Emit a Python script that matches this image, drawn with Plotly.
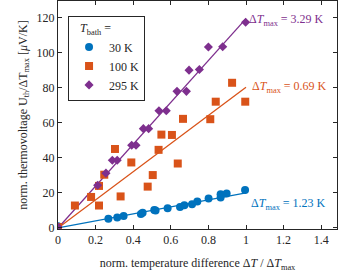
import plotly.graph_objects as go

# ---- data ----
x30 = [0, 0.268, 0.315, 0.349, 0.441, 0.450, 0.512, 0.519, 0.583, 0.649, 0.672, 0.713, 0.741, 0.801, 0.865, 0.865, 0.897, 0.995]
y30 = [1.0, 5.3, 6.0, 6.8, 7.9, 8.7, 10.2, 10.0, 11.2, 11.9, 12.9, 13.6, 15.1, 16.8, 17.4, 19.3, 19.7, 21.7]

x100 = [0, 0.090, 0.176, 0.218, 0.218, 0.246, 0.303, 0.333, 0.390, 0.477, 0.504, 0.535, 0.550, 0.606, 0.637, 0.665, 0.810, 0.839, 0.926, 0.996]
y100 = [0.5, 12.8, 17.7, 12.8, 24.0, 30.4, 45.1, 18.0, 37.4, 23.6, 30.2, 44.6, 53.3, 53.1, 36.8, 62.3, 62.1, 72.1, 82.9, 72.1]

x295 = [0, 0.211, 0.255, 0.289, 0.315, 0.392, 0.415, 0.454, 0.482, 0.537, 0.576, 0.633, 0.683, 0.697, 0.752, 0.800, 0.876, 0.998]
y295 = [0.5, 24.4, 31.3, 38.7, 38.7, 47.2, 47.2, 56.7, 56.7, 66.9, 66.9, 78.0, 78.0, 90.1, 90.5, 103.3, 103.5, 117.5]

series_names = ["30 K", "100 K", "295 K"]
fit_slopes = [20.0, 80.3, 119.5]
fit_x = [0, 1]
dT_labels = ["Δ<i>T</i><sub>max</sub> = 1.23 K", "Δ<i>T</i><sub>max</sub> = 0.69 K", "Δ<i>T</i><sub>max</sub> = 3.29 K"]
label_pos = [(1.016, 13.6), (1.02, 80.5), (1.004, 119.0)]

colors = ["#0072BD", "#D95319", "#7E2F8E"]
symbols = ["circle", "square", "diamond"]
sizes = [8, 8, 7]
xs = [x30, x100, x295]
ys = [y30, y100, y295]

font = "Liberation Serif"

fig = go.Figure()
for i in range(3):
    fig.add_trace(go.Scatter(
        x=fit_x, y=[fit_slopes[i] * v for v in fit_x], mode="lines",
        line=dict(color=colors[i], width=1.3), showlegend=False, hoverinfo="skip"))
for i in range(3):
    fig.add_trace(go.Scatter(
        x=xs[i], y=ys[i], mode="markers", name=series_names[i],
        marker=dict(color=colors[i], symbol=symbols[i], size=sizes[i], line=dict(width=0))))

for i in range(3):
    fig.add_annotation(x=label_pos[i][0], y=label_pos[i][1], text=dT_labels[i],
                       showarrow=False, xanchor="left", yanchor="middle",
                       font=dict(family=font, size=12, color=colors[i]))

axis_common = dict(showgrid=False, zeroline=False, showline=True, linecolor="#262626",
                   linewidth=1, mirror="ticks", ticks="inside", ticklen=4, automargin=False,
                   tickcolor="#262626", tickfont=dict(family=font, size=12, color="#262626"))

fig.update_xaxes(range=[0, 1.484], tickvals=[0, 0.2, 0.4, 0.6, 0.8, 1, 1.2, 1.4],
                 ticktext=["0", "0.2", "0.4", "0.6", "0.8", "1", "1.2", "1.4"],
                 title=dict(text="norm. temperature difference Δ<i>T</i> / Δ<i>T</i><sub>max</sub>",
                            font=dict(family=font, size=12, color="#262626"), standoff=12),
                 **axis_common)
fig.update_yaxes(range=[-0.6, 129.6], tickvals=[0, 20, 40, 60, 80, 100, 120],
                 title=dict(text="norm. thermovoltage U<sub>th</sub>/ΔT<sub>max</sub> [<i>μ</i>V/K]",
                            font=dict(family=font, size=12, color="#262626"), standoff=6),
                 **axis_common)

fig.update_layout(
    width=339, height=272,
    margin=dict(l=58, r=2, t=1, b=43, autoexpand=False),
    plot_bgcolor="white", paper_bgcolor="white",
    font=dict(family=font, size=12, color="#262626"),
    showlegend=True,
    legend=dict(x=0.036, y=0.935, xanchor="left", yanchor="top",
                bordercolor="#262626", borderwidth=1, bgcolor="white",
                title=dict(text="   <i>T</i><sub>bath</sub> =", font=dict(family=font, size=12)),
                font=dict(family=font, size=12, color="#262626"),
                itemwidth=30, tracegroupgap=0),
)

fig.write_html("out.html", config={"displayModeBar": False},
               post_script="document.body.style.margin='0';document.body.style.padding='0';")
